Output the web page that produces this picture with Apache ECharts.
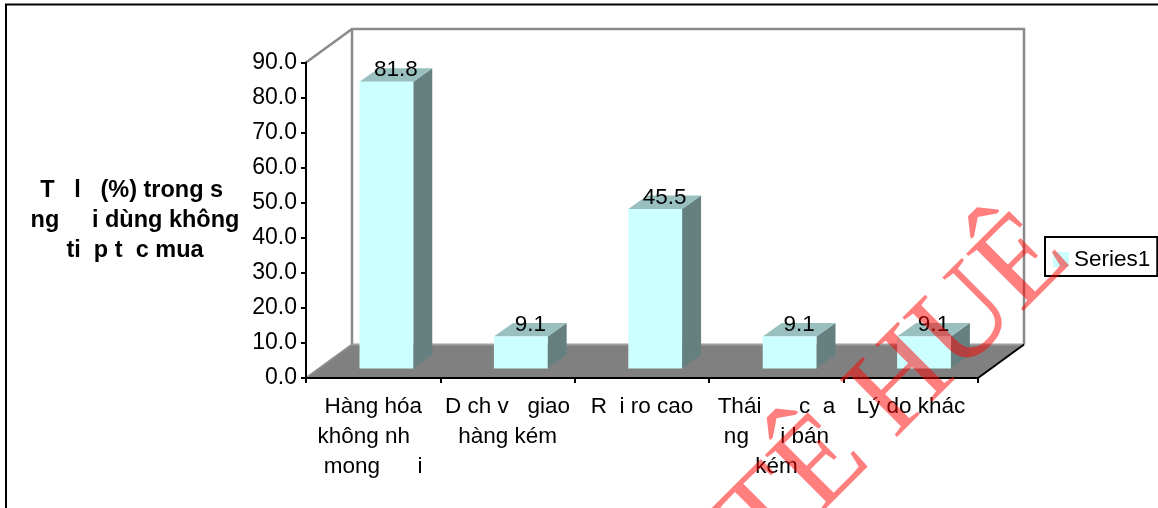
<!DOCTYPE html>
<html>
<head>
<meta charset="utf-8">
<style>html,body{margin:0;padding:0;background:#fff}#chart{width:1158px;height:508px}</style>
<script src="https://cdn.jsdelivr.net/npm/echarts@6/dist/echarts.min.js"></script>
</head>
<body>
<div id="chart"></div>
<script>
// Gaps in the labels are the places where the source font dropped its accented letters.
const categories = [
  'Hàng hóa\nkhông nh   \nmong      i',
  'D ch v   giao\nhàng kém',
  'R  i ro cao',
  'Thái      c  a\nng     i bán\nkém',
  'Lý do khác'
];
const shares = [81.8, 9.1, 45.5, 9.1, 9.1];
const yTitle = 'T   l   (%) trong s \nng     i dùng không\nti  p t  c mua';
const seriesName = 'Series1';
const stampText = 'TÊ HUÊ';

const FONT = '"Liberation Sans", Arial, sans-serif';
const DEPTH_X = 46, DEPTH_Y = 33.5;    // floor depth in the oblique projection
const BAR_DX = 19, BAR_DY = 13.5;      // depth of a single column
const BAR_SHIFT_X = 13.2, BAR_SHIFT_Y = 9.5;

const chart = echarts.init(document.getElementById('chart'), null, {renderer: 'canvas'});

// Back walls and floor of the oblique box, derived from the plot rectangle.
function renderBox(params) {
  const c = params.coordSys;
  const l = c.x, r = c.x + c.width, t = c.y, b = c.y + c.height;
  const grey = {stroke: '#8a8a8a', lineWidth: 2.5, fill: 'none'};
  return {type: 'group', children: [
    {type: 'polygon', shape: {points: [[l, b], [l + DEPTH_X, b - DEPTH_Y], [r + DEPTH_X, b - DEPTH_Y], [r, b]]},
     style: {fill: '#808080'}},
    {type: 'polyline', shape: {points: [[l, t], [l + DEPTH_X, t - DEPTH_Y], [r + DEPTH_X, t - DEPTH_Y], [r + DEPTH_X, b - DEPTH_Y]]}, style: grey},
    {type: 'line', shape: {x1: l + DEPTH_X, y1: t - DEPTH_Y, x2: l + DEPTH_X, y2: b - DEPTH_Y}, style: grey},
    {type: 'line', shape: {x1: l + DEPTH_X, y1: b - DEPTH_Y, x2: r + DEPTH_X, y2: b - DEPTH_Y}, style: {stroke: '#a0a0a0', lineWidth: 2}},
    {type: 'line', shape: {x1: l, y1: b, x2: l + DEPTH_X, y2: b - DEPTH_Y}, style: {stroke: '#8c8c8c', lineWidth: 2}},
    {type: 'line', shape: {x1: r, y1: b, x2: r + DEPTH_X, y2: b - DEPTH_Y}, style: {stroke: '#000', lineWidth: 2}}
  ]};
}

// One column: front, top and side faces plus its value label.
function renderColumn(params, api) {
  const idx = api.value(0), val = api.value(1);
  const top = api.coord([idx, val]);
  const base = api.coord([idx, 0]);
  const w = api.size([1, 0])[0] * 0.4;
  const x0 = top[0] + BAR_SHIFT_X - w / 2, x1 = x0 + w;
  const yT = top[1] - BAR_SHIFT_Y, yB = base[1] - BAR_SHIFT_Y;
  return {type: 'group', children: [
    {type: 'polygon', shape: {points: [[x1, yT], [x1 + BAR_DX, yT - BAR_DY], [x1 + BAR_DX, yB - BAR_DY], [x1, yB]]},
     style: {fill: '#668080'}},
    {type: 'polygon', shape: {points: [[x0, yT], [x0 + BAR_DX, yT - BAR_DY], [x1 + BAR_DX, yT - BAR_DY], [x1, yT]]},
     style: {fill: '#99BFBF'}},
    {type: 'rect', shape: {x: x0, y: yT, width: w, height: yB - yT}, style: {fill: '#CCFFFF'}},
    {type: 'text', x: x0 + (w + BAR_DX) / 2, y: yT - 11.5,
     style: {text: val.toFixed(1), font: '22.5px ' + FONT, fill: '#000', align: 'center', verticalAlign: 'middle'}}
  ]};
}

chart.setOption({
  animation: false,
  backgroundColor: '#fff',
  grid: {left: 306, top: 62.5, width: 672, height: 315.5, containLabel: false},
  legend: {
    left: 1045, top: 237, data: [seriesName], icon: 'rect',
    itemWidth: 16, itemHeight: 15, itemGap: 0,
    padding: [11, 7, 5, 8],
    backgroundColor: '#fff', borderColor: '#000', borderWidth: 2,
    textStyle: {fontFamily: FONT, fontSize: 22.5, color: '#000'}
  },
  xAxis: {
    type: 'category', data: categories, z: 5,
    axisLine: {lineStyle: {color: '#000', width: 2}},
    axisTick: {show: true, alignWithLabel: false, length: 5, lineStyle: {color: '#000', width: 2}},
    axisLabel: {interval: 0, margin: 14, fontFamily: FONT, fontSize: 22.5, lineHeight: 30, color: '#000'}
  },
  yAxis: {
    type: 'value', min: 0, max: 90, interval: 10, z: 5,
    name: yTitle, nameLocation: 'middle', nameRotate: 0, nameGap: 171,
    nameTextStyle: {fontFamily: FONT, fontSize: 23.5, fontWeight: 'bold', lineHeight: 30, color: '#000', align: 'center', verticalAlign: 'middle', padding: [3, 0, 0, 0]},
    splitLine: {show: false},
    axisLine: {show: true, lineStyle: {color: '#000', width: 2}},
    axisTick: {show: true, length: 5, lineStyle: {color: '#000', width: 2}},
    axisLabel: {margin: 9, fontFamily: FONT, fontSize: 23, color: '#000', padding: [3, 0, 0, 0], formatter: v => v.toFixed(1)}
  },
  series: [
    {type: 'custom', name: 'box', silent: true, z: 1, renderItem: renderBox, data: [[0, 0]],
     encode: {x: 0, y: 1}},
    {type: 'custom', name: seriesName, z: 2, renderItem: renderColumn,
     itemStyle: {color: '#CCFFFF'},
     data: shares.map((v, i) => [i, v]), encode: {x: 0, y: 1}}
  ],
  graphic: [
    // frame of the embedded chart, open on the right and at the bottom
    {type: 'line', z: 50, shape: {x1: 5, y1: 4.5, x2: 1158, y2: 4.5}, style: {stroke: '#000', lineWidth: 2}},
    {type: 'line', z: 50, shape: {x1: 6, y1: 4, x2: 6, y2: 508}, style: {stroke: '#000', lineWidth: 2}},
    // red diagonal stamp across the page
    {type: 'text', z: 100, x: 1095, y: 281, rotation: Math.PI / 4,
     style: {text: stampText, font: '123.5px "Liberation Serif", serif', fill: 'rgba(255,0,0,0.5)', align: 'right', verticalAlign: 'bottom'}}
  ]
});
</script>
</body>
</html>
